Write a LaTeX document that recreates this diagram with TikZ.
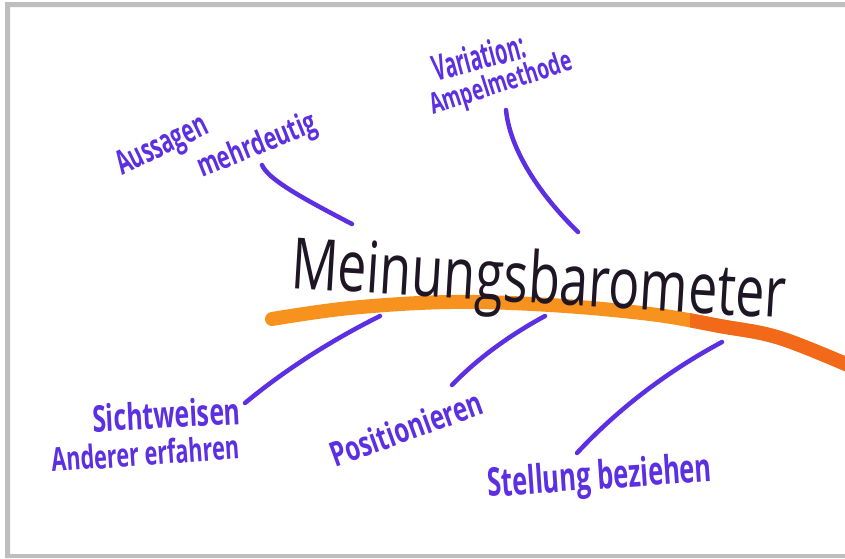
\documentclass[tikz,border=0pt]{standalone}
\usepackage{fontspec}
\setmainfont{Open Sans}
\usepackage{graphicx}
\definecolor{pen}{RGB}{92,48,226}
\definecolor{ink}{RGB}{30,22,36}
\definecolor{orA}{RGB}{247,146,30}
\definecolor{orB}{RGB}{242,105,25}
\definecolor{framegray}{RGB}{190,190,190}
\newcommand{\hwtext}[3]{\resizebox{#1pt}{#2pt}{#3}}
\begin{document}
\begin{tikzpicture}[x=1pt,y=-1pt,
  lab/.style={inner sep=0pt, anchor=base west, text=pen, font=\bfseries},
  titlelab/.style={inner sep=0pt, anchor=base west, text=ink},
  penline/.style={draw=pen, line width=4.5pt, line cap=round},
  orangeline/.style={line width=14pt, line cap=round},
  ]
\useasboundingbox (0,0) rectangle (845,558);
\fill[white] (0,0) rectangle (845,558);
\fill[framegray] (5,2) rectangle (845,7) (5,2) rectangle (10,558) (5,554) rectangle (845,558);

% orange bar
\draw[orA, orangeline] plot[smooth, tension=0.6] coordinates {(272,319) (350,308) (450,302) (550,305) (650,314) (720,326) (780,338) (855,368)};
\begin{scope}
\clip (690,0) rectangle (845,558);
\draw[orB, orangeline] plot[smooth, tension=0.6] coordinates {(272,319) (350,308) (450,302) (550,305) (650,314) (720,326) (780,338) (855,368)};
\end{scope}

% texts
\node[lab, rotate=26] (auss) at (122,176) {\hwtext{98}{24}{Aussagen}};
\node[lab, rotate=22] (mehr) at (202,178) {\hwtext{126}{24}{mehrdeutig}};
\node[lab, rotate=15] (var) at (436,82) {\hwtext{95}{27}{Variation:}};
\node[lab, rotate=18] (ampel) at (433,115) {\hwtext{148}{22}{Ampelmethode}};
\node[titlelab, rotate=-3.5] (title) at (290,288) {\hwtext{495}{54}{Meinungsbarometer}};
\node[lab, rotate=3] (sicht) at (93,432) {\hwtext{148}{28}{Sichtweisen}};
\node[lab, rotate=4] (ander) at (52,472) {\hwtext{188}{25}{Anderer erfahren}};
\node[lab, rotate=20] (posi) at (335,468) {\hwtext{160}{26}{Positionieren}};
\node[lab, rotate=4] (stell) at (488,497) {\hwtext{225}{30}{Stellung beziehen}};

% strokes
\coordinate (l1a) at (262,165); \coordinate (l1b) at (352,224);
\draw[penline] (l1a) .. controls (268,178) and (292,193) .. (l1b);
\coordinate (l2a) at (506,110); \coordinate (l2b) at (578,232);
\draw[penline] (l2a) .. controls (510,150) and (540,195) .. (l2b);
\coordinate (l3a) at (380,316); \coordinate (l3b) at (245,403);
\draw[penline] (l3a) .. controls (332,340) and (286,369) .. (l3b);
\coordinate (l4a) at (545,316); \coordinate (l4b) at (452,385);
\draw[penline] (l4a) .. controls (510,335) and (478,358) .. (l4b);
\coordinate (l5a) at (722,342); \coordinate (l5b) at (577,453);
\draw[penline] (l5a) .. controls (666,372) and (617,410) .. (l5b);
\end{tikzpicture}
\end{document}
